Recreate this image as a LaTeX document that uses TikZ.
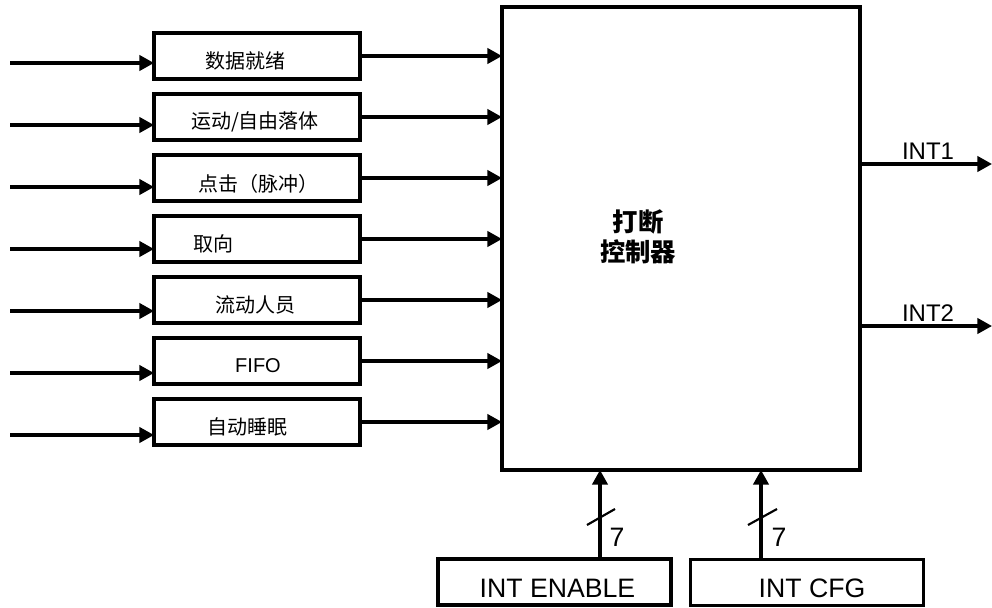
\documentclass[tikz,border=0pt]{standalone}
\usepackage{fontspec}
\setmainfont{Liberation Sans}
\newfontfamily\cjk{Noto Sans CJK SC}
\usetikzlibrary{arrows.meta,positioning,calc}

\begin{document}
\begin{tikzpicture}[
  x=0.75pt, y=-0.75pt,
  node distance=11.25pt,
  srcbox/.style={draw, line width=2.3pt, minimum width=154.5pt,
                 minimum height=34.5pt, inner sep=0pt, outer sep=0pt},
  cfgbox/.style={draw, line width=2.3pt, minimum width=174.75pt,
                 minimum height=34.5pt, inner sep=0pt, outer sep=0pt},
  ctrlbox/.style={draw, line width=2.3pt, minimum width=268.5pt,
                  minimum height=347.25pt, inner sep=0pt, outer sep=0pt},
  srclbl/.style={font=\cjk\fontsize{15}{18}\selectfont, inner sep=0pt},
  cfglbl/.style={font=\fontsize{20}{24}\selectfont, inner sep=0pt},
  outlbl/.style={font=\fontsize{18}{21}\selectfont, inner sep=1pt},
  arr/.style={-{Triangle[length=11pt, width=11.5pt]}, line width=2.4pt},
  slash/.style={line width=1.6pt}
]
\useasboundingbox (0,0) rectangle (992,607);

% interrupt controller
\node[ctrlbox] (ctrl) at (681,238.5) {};
\node[font=\cjk\bfseries\fontsize{19}{22.5}\selectfont, align=center]
  (ctrl-t) at (638,237) {打断\\控制器};

% interrupt sources
\node[srcbox] (rdy) at (257,56) {};
\node[srcbox, below=of rdy] (motion) {};
\node[srcbox, below=of motion] (tap) {};
\node[srcbox, below=of tap] (orient) {};
\node[srcbox, below=of orient] (act) {};
\node[srcbox, below=of act] (fifo) {};
\node[srcbox, below=of fifo] (sleep) {};

\node[srclbl] (rdy-t) at ($(rdy)+(-12,5)$) {数据就绪};
\node[srclbl] (motion-t) at ($(motion)+(-2,5)$) {运动/自由落体};
\node[srclbl] (tap-t) at ($(tap)+(1,6)$) {点击（脉冲）};
\node[srclbl] (orient-t) at ($(orient)+(-44,5)$) {取向};
\node[srclbl] (act-t) at ($(act)+(-2,5)$) {流动人员};
\node[font=\fontsize{15}{18}\selectfont, inner sep=0pt]
  (fifo-t) at ($(fifo)+(1,5)$) {FIFO};
\node[srclbl] (sleep-t) at ($(sleep)+(-10,5)$) {自动睡眠};

\coordinate (in1) at (10,63);
\coordinate (in2) at (10,125);
\coordinate (in3) at (10,187);
\coordinate (in4) at (10,249);
\coordinate (in5) at (10,311);
\coordinate (in6) at (10,373);
\coordinate (in7) at (10,435);

\draw[arr] (in1) -- (in1 -| rdy.west);
\draw[arr] (in2) -- (in2 -| motion.west);
\draw[arr] (in3) -- (in3 -| tap.west);
\draw[arr] (in4) -- (in4 -| orient.west);
\draw[arr] (in5) -- (in5 -| act.west);
\draw[arr] (in6) -- (in6 -| fifo.west);
\draw[arr] (in7) -- (in7 -| sleep.west);

\draw[arr] (rdy.east) -- (rdy.east -| ctrl.west);
\draw[arr] (motion.east) -- (motion.east -| ctrl.west);
\draw[arr] (tap.east) -- (tap.east -| ctrl.west);
\draw[arr] (orient.east) -- (orient.east -| ctrl.west);
\draw[arr] (act.east) -- (act.east -| ctrl.west);
\draw[arr] (fifo.east) -- (fifo.east -| ctrl.west);
\draw[arr] (sleep.east) -- (sleep.east -| ctrl.west);

% outputs
\coordinate (int1) at (992,164);
\coordinate (int2) at (992,326);
\draw[arr] (int1 -| ctrl.east) -- (int1);
\draw[arr] (int2 -| ctrl.east) -- (int2);
\node[outlbl, above] (int1-t) at (928,161) {INT1};
\node[outlbl, above] (int2-t) at (928,323) {INT2};

% configuration registers
\node[cfgbox] (en) at (554.5,582) {};
\node[cfgbox] (cfg) at (807,582.5) {};
\node[cfglbl] (en-t) at ($(en)+(3,6)$) {INT ENABLE};
\node[cfglbl] (cfg-t) at ($(cfg)+(5,6)$) {INT CFG};

\coordinate (bus-en) at (600,0);
\coordinate (bus-cfg) at (761,0);
\draw[arr] (en.north -| bus-en) -- (ctrl.south -| bus-en);
\draw[arr] (cfg.north -| bus-cfg) -- (ctrl.south -| bus-cfg);
\draw[slash] (587,525) -- (615,509);
\draw[slash] (748,525) -- (777,509);
\node[cfglbl] (en-w) at (617,537) {7};
\node[cfglbl] (cfg-w) at (779,537) {7};
\end{tikzpicture}
\end{document}
